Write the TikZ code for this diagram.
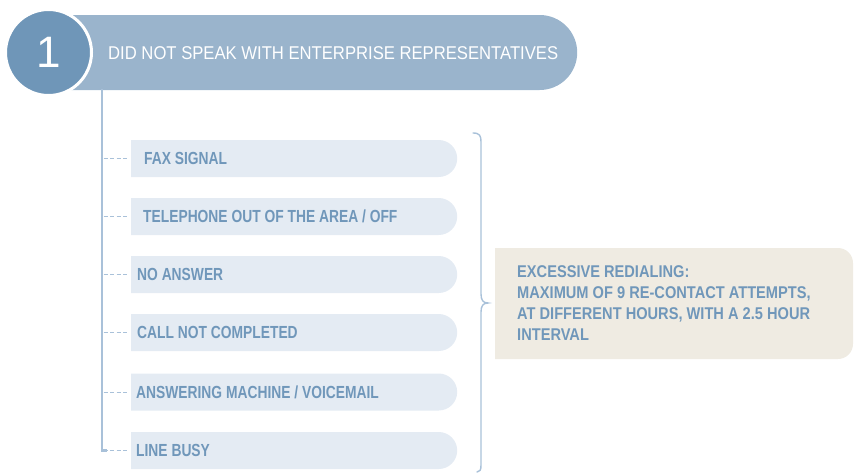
\documentclass[tikz,border=0pt]{standalone}
\usepackage{fontspec}
\setmainfont{Liberation Sans}
\newfontfamily\headfont[FakeStretch=0.9]{Liberation Sans}
\newfontfamily\itemfont[FakeStretch=0.79]{Liberation Sans}
\newfontfamily\notefont[FakeStretch=0.86]{Liberation Sans}
\usetikzlibrary{shapes.misc}
\definecolor{barblue}{HTML}{9AB4CC}
\definecolor{circblue}{HTML}{6F96B8}
\definecolor{itemfill}{HTML}{E4EBF3}
\definecolor{itemtext}{HTML}{7097BA}
\definecolor{linkblue}{HTML}{A9C1D9}
\definecolor{notefill}{HTML}{EFEBE2}
\begin{document}
\begin{tikzpicture}[x=1pt,y=-1pt,
  itembox/.style={rounded rectangle, rounded rectangle left arc=none, fill=itemfill,
    minimum width=326pt, minimum height=37pt, inner sep=0pt, anchor=west},
  itemlabel/.style={anchor=west, inner sep=0pt, text=itemtext,
    font=\itemfont\bfseries\fontsize{17.5}{19}\selectfont},
  dashlink/.style={draw=linkblue, line width=1pt, dash pattern=on 4pt off 2.5pt},
  trunk/.style={draw=linkblue, line width=2.6pt}]
\useasboundingbox (0,0) rectangle (854,474);

% header
\node[rounded rectangle, rounded rectangle left arc=none, fill=barblue,
  minimum width=519pt, minimum height=75pt, inner sep=0pt, anchor=west] (bar) at (58,52.5) {};
\node[anchor=west, inner sep=0pt, text=white, font=\headfont\fontsize{18.5}{20}\selectfont]
  (bartext) at (108,53) {DID NOT SPEAK WITH ENTERPRISE REPRESENTATIVES};
\node[circle, fill=circblue, draw=white, line width=3pt, minimum size=86pt, inner sep=0pt,
  text=white, font=\fontsize{44}{44}\selectfont] (num) at (48.5,52.5) {1};

% items
\foreach \i/\y/\tx/\t in {1/158.5/144/{FAX SIGNAL},
  2/216.5/143/{TELEPHONE OUT OF THE AREA / OFF},
  3/274.5/137/{NO ANSWER},
  4/332.5/137/{CALL NOT COMPLETED},
  5/392/136/{ANSWERING MACHINE / VOICEMAIL},
  6/450.5/136/{LINE BUSY}} {
  \node[itembox] (item\i) at (131,\y) {};
  \node[itemlabel] (label\i) at (\tx,\y) {\t};
  \coordinate (tap\i) at (102,\y);
  \draw[dashlink] ([xshift=1.5pt]tap\i) -- ([xshift=-3pt]item\i.west);
}

% trunk
\coordinate (trunktop) at (102,89);
\draw[trunk] (trunktop) -- (tap6) -- ([xshift=5pt]tap6);

% bracket
\coordinate (brtop) at (473,133);
\coordinate (brtip) at (488,303);
\coordinate (brbot) at (477,472);
\draw[draw=linkblue, line width=1.4pt, line cap=round]
  (brtop) .. controls (480,133) and (481,136) .. (481,142)
  -- (481,294) .. controls (481,300) and (483,303) .. (brtip)
  .. controls (483,303) and (481,306) .. (481,312)
  -- (481,465) .. controls (481,470) and (480,472) .. (brbot);

% note
\fill[notefill] (495,248) -- (838,248) arc[start angle=90, end angle=0, radius=15pt]
  -- (853,344) arc[start angle=0, end angle=-90, radius=15pt] -- (495,359) -- cycle;
\node[anchor=north west, inner sep=0pt, text=itemtext, align=left,
  font=\notefont\bfseries\fontsize{17}{21}\selectfont] (note) at (517,265)
  {EXCESSIVE REDIALING:\\MAXIMUM OF 9 RE-CONTACT ATTEMPTS,\\AT DIFFERENT HOURS, WITH A 2.5 HOUR\\INTERVAL};
\end{tikzpicture}
\end{document}
